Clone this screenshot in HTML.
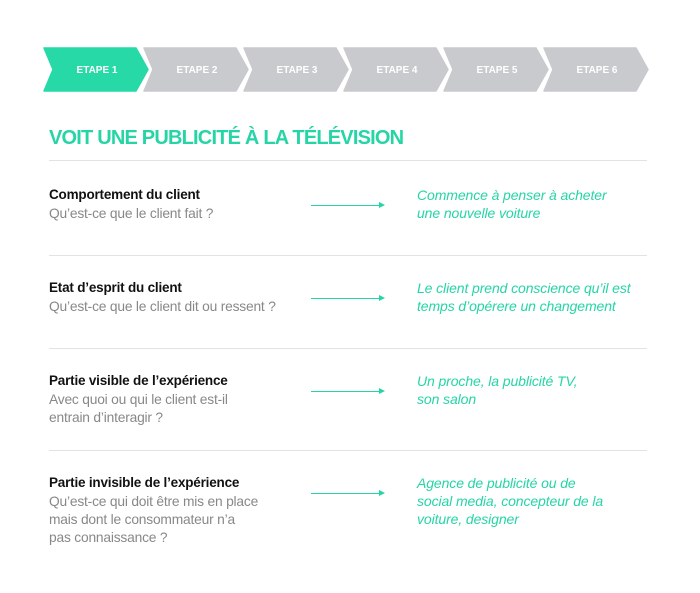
<!DOCTYPE html>
<html><head><meta charset="utf-8"><style>
body{margin:0;width:700px;height:593px;background:#fff;font-family:"Liberation Sans",sans-serif;position:relative;overflow:hidden}
.a{position:absolute}
.t{left:49px;top:127px;font-size:20px;font-weight:bold;color:#26d5a6;letter-spacing:-0.8px}
.hr{position:absolute;left:49px;width:598px;height:1px;background:#e2e2e2}
.b{left:49px;font-size:13.5px;font-weight:bold;color:#111;letter-spacing:-0.2px}
.g{left:49px;font-size:13.8px;color:#888;line-height:18px;letter-spacing:-0.2px}
.i{left:417px;font-size:14px;font-style:italic;color:#26d5a6;line-height:18px;letter-spacing:-0.1px}
.ar{position:absolute;left:311px;width:68px;height:1px;background:#26d5a6}
.ar:after{content:"";position:absolute;right:-6px;top:-3px;border-left:6px solid #26d5a6;border-top:3.5px solid transparent;border-bottom:3.5px solid transparent}
</style></head><body>
<svg class="a" style="left:0;top:0" width="700" height="100">
<g font-family="Liberation Sans" font-weight="bold" font-size="10" fill="#fff" text-anchor="middle" stroke-linejoin="round">
<polygon points="44,48 136,48 148,69.5 136,91 44,91 53,69.5" fill="#26d9a7" stroke="#26d9a7" stroke-width="1.5"/>
<polygon points="144,48 236,48 248,69.5 236,91 144,91 153,69.5" fill="#c8cacd" stroke="#c8cacd" stroke-width="1.5"/>
<polygon points="244,48 336,48 348,69.5 336,91 244,91 253,69.5" fill="#c8cacd" stroke="#c8cacd" stroke-width="1.5"/>
<polygon points="344,48 436,48 448,69.5 436,91 344,91 353,69.5" fill="#c8cacd" stroke="#c8cacd" stroke-width="1.5"/>
<polygon points="444,48 536,48 548,69.5 536,91 444,91 453,69.5" fill="#c8cacd" stroke="#c8cacd" stroke-width="1.5"/>
<polygon points="544,48 636,48 648,69.5 636,91 544,91 553,69.5" fill="#c8cacd" stroke="#c8cacd" stroke-width="1.5"/>
<g stroke="none"><text x="97" y="73">ETAPE 1</text><text x="197" y="73">ETAPE 2</text><text x="297" y="73">ETAPE 3</text>
<text x="397" y="73">ETAPE 4</text><text x="497" y="73">ETAPE 5</text><text x="597" y="73">ETAPE 6</text></g>
</g></svg>
<div class="a t">VOIT UNE PUBLICITÉ À LA TÉLÉVISION</div>
<div class="hr" style="top:160px"></div>
<div class="hr" style="top:255px"></div>
<div class="hr" style="top:348px"></div>
<div class="hr" style="top:450px"></div>

<div class="a b" style="top:187px">Comportement du client</div>
<div class="a g" style="top:205px">Qu’est-ce que le client fait ?</div>
<div class="ar" style="top:205px"></div>
<div class="a i" style="top:186px">Commence à penser à acheter<br>une nouvelle voiture</div>

<div class="a b" style="top:280px">Etat d’esprit du client</div>
<div class="a g" style="top:298px">Qu’est-ce que le client dit ou ressent ?</div>
<div class="ar" style="top:298px"></div>
<div class="a i" style="top:279px">Le client prend conscience qu’il est<br>temps d’opérere un changement</div>

<div class="a b" style="top:373px">Partie visible de l’expérience</div>
<div class="a g" style="top:391px">Avec quoi ou qui le client est-il<br>entrain d’interagir ?</div>
<div class="ar" style="top:391px"></div>
<div class="a i" style="top:372px">Un proche, la publicité TV,<br>son salon</div>

<div class="a b" style="top:475px">Partie invisible de l’expérience</div>
<div class="a g" style="top:493px">Qu’est-ce qui doit être mis en place<br>mais dont le consommateur n’a<br>pas connaissance ?</div>
<div class="ar" style="top:493px"></div>
<div class="a i" style="top:474px">Agence de publicité ou de<br>social media, concepteur de la<br>voiture, designer</div>
</body></html>
